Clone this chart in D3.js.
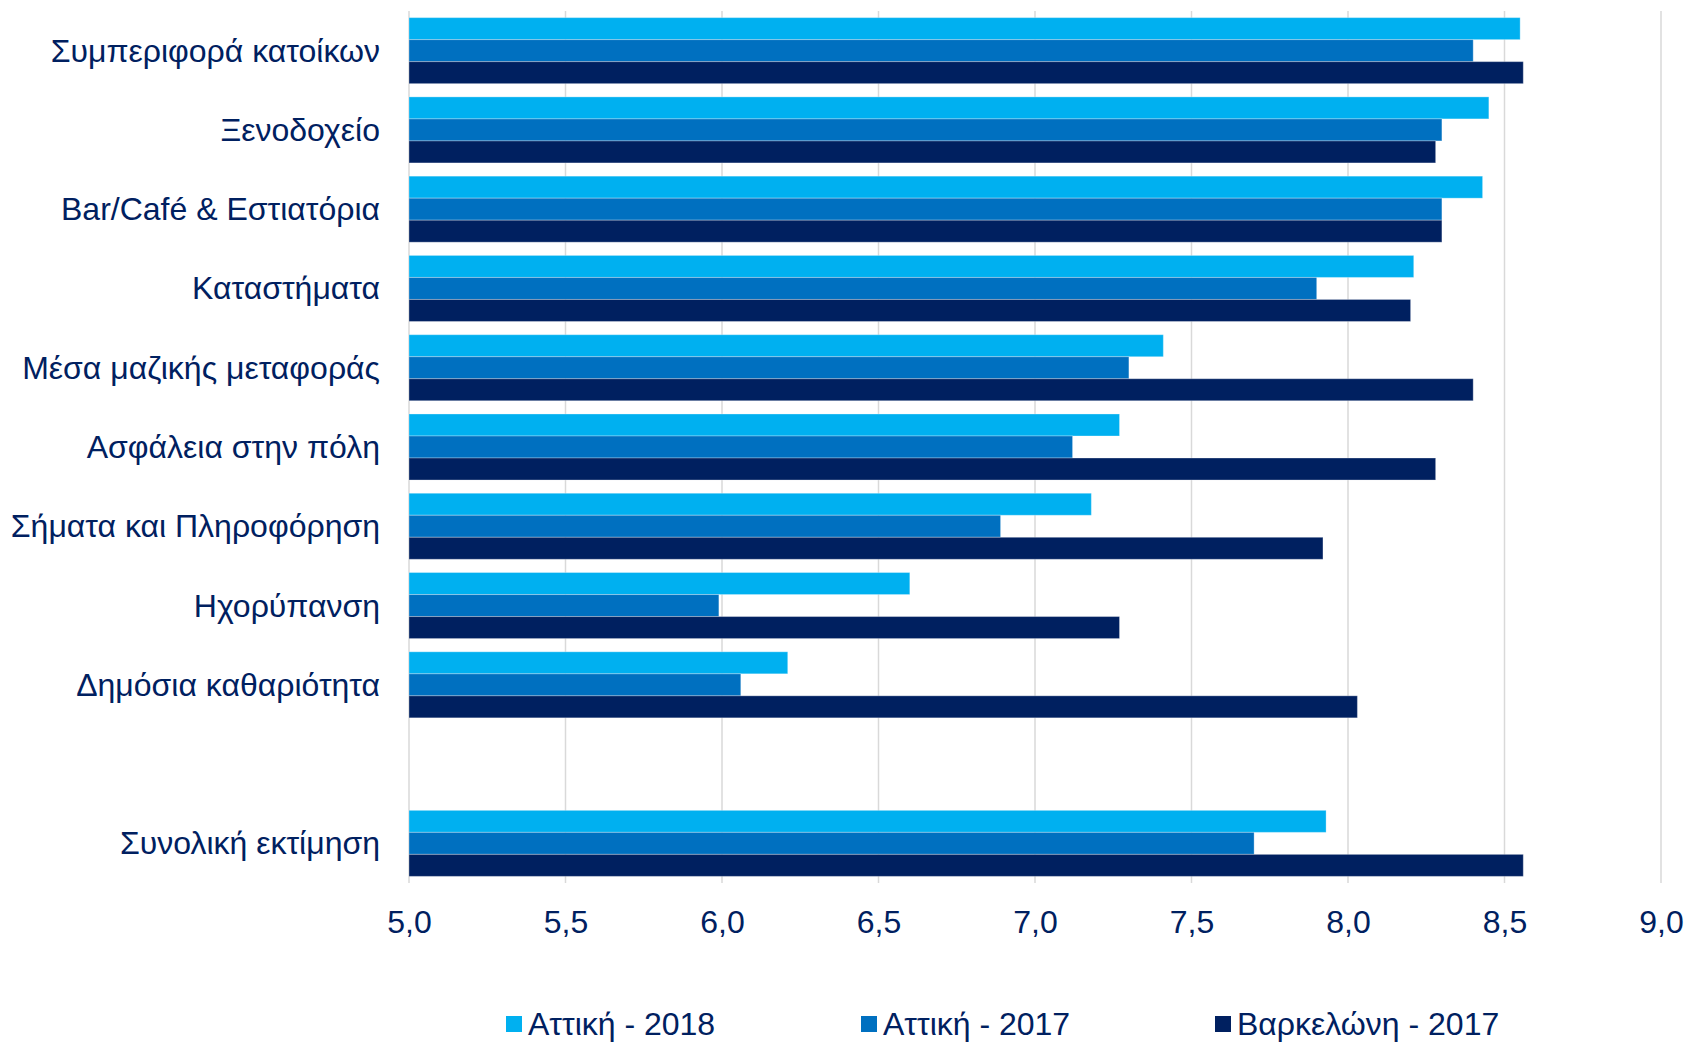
<!DOCTYPE html>
<html>
<head>
<meta charset="utf-8">
<script src="https://cdn.jsdelivr.net/npm/d3@7"></script>
<style>
  html, body { margin: 0; padding: 0; background: #ffffff; }
  svg { display: block; font-family: "Liberation Sans", Arial, sans-serif; }
</style>
</head>
<body>
<svg id="chart" width="1688" height="1042"></svg>
<script>
const categories = [
  "Συμπεριφορά κατοίκων",
  "Ξενοδοχείο",
  "Bar/Café & Εστιατόρια",
  "Καταστήματα",
  "Μέσα μαζικής μεταφοράς",
  "Ασφάλεια στην πόλη",
  "Σήματα και Πληροφόρηση",
  "Ηχορύπανση",
  "Δημόσια καθαριότητα",
  "",
  "Συνολική εκτίμηση"
];
const seriesNames = ["Αττική - 2018", "Αττική - 2017", "Βαρκελώνη - 2017"];
const attiki2018 =    [8.55, 8.45, 8.43, 8.21, 7.41, 7.27, 7.18, 6.60, 6.21, null, 7.93];
const attiki2017 =    [8.40, 8.30, 8.30, 7.90, 7.30, 7.12, 6.89, 5.99, 6.06, null, 7.70];
const barcelona2017 = [8.56, 8.28, 8.30, 8.20, 8.40, 8.28, 7.92, 7.27, 8.03, null, 8.56];
const xTicks = [5.0, 5.5, 6.0, 6.5, 7.0, 7.5, 8.0, 8.5, 9.0];
const colors = ["#00B0F0", "#0070C0", "#002060"];
const textColor = "#002060";

const series = [attiki2018, attiki2017, barcelona2017];

const svg = d3.select("#chart");
const plot = { left: 409, right: 1661, top: 11, bottom: 883 };
const fontSize = 32;

const x = d3.scaleLinear().domain([5, 9]).range([plot.left, plot.right]);
const keys = categories.map((c, i) => "k" + i);
const y = d3.scaleBand().domain(keys).range([plot.top, plot.bottom])
  .paddingInner(0.167).paddingOuter(0.0835);
const ySub = d3.scaleBand().domain(d3.range(series.length)).range([0, y.bandwidth()]);

// gridlines
svg.append("g").selectAll("line").data(xTicks).join("line")
  .attr("x1", d => x(d)).attr("x2", d => x(d))
  .attr("y1", plot.top).attr("y2", plot.bottom)
  .attr("stroke", "#D9D9D9").attr("stroke-width", 1.5);

// bars
const rows = [];
series.forEach((vals, si) => {
  vals.forEach((v, ci) => { if (v != null) rows.push({ si, ci, v }); });
});
svg.append("g").selectAll("rect").data(rows).join("rect")
  .attr("x", x(5))
  .attr("y", d => y(keys[d.ci]) + ySub(d.si))
  .attr("width", d => x(d.v) - x(5))
  .attr("height", ySub.bandwidth())
  .attr("fill", d => colors[d.si])
  .attr("stroke", "rgba(255,255,255,0.3)")
  .attr("stroke-width", 1);

// category labels
svg.append("g").selectAll("text").data(categories).join("text")
  .attr("x", 380)
  .attr("y", (d, i) => y(keys[i]) + y.bandwidth() / 2)
  .attr("text-anchor", "end")
  .attr("dominant-baseline", "central")
  .attr("font-size", fontSize)
  .attr("fill", textColor)
  .text(d => d);

// x axis labels
const loc = d3.formatLocale({ decimal: ",", thousands: ".", grouping: [3], currency: ["", "€"] });
const fmt = loc.format(".1f");
const axis = d3.axisBottom(x).tickValues(xTicks).tickFormat(fmt).tickSize(0).tickPadding(0);
const gAxis = svg.append("g").attr("transform", `translate(0, 922)`).call(axis);
gAxis.select(".domain").remove();
gAxis.selectAll("text")
  .attr("y", 0).attr("dy", null)
  .attr("dominant-baseline", "central")
  .attr("font-size", fontSize)
  .attr("font-family", "Liberation Sans, Arial, sans-serif")
  .attr("fill", textColor);

// legend
const legendX = [506, 861, 1215];
const lg = svg.append("g").selectAll("g").data(seriesNames).join("g")
  .attr("transform", (d, i) => `translate(${legendX[i]}, 1024)`);
lg.append("rect").attr("x", 0).attr("y", -8).attr("width", 16).attr("height", 16)
  .attr("fill", (d, i) => colors[i]);
lg.append("text").attr("x", 22).attr("y", 0)
  .attr("dominant-baseline", "central")
  .attr("font-size", fontSize)
  .attr("fill", textColor)
  .text(d => d);
</script>
</body>
</html>
